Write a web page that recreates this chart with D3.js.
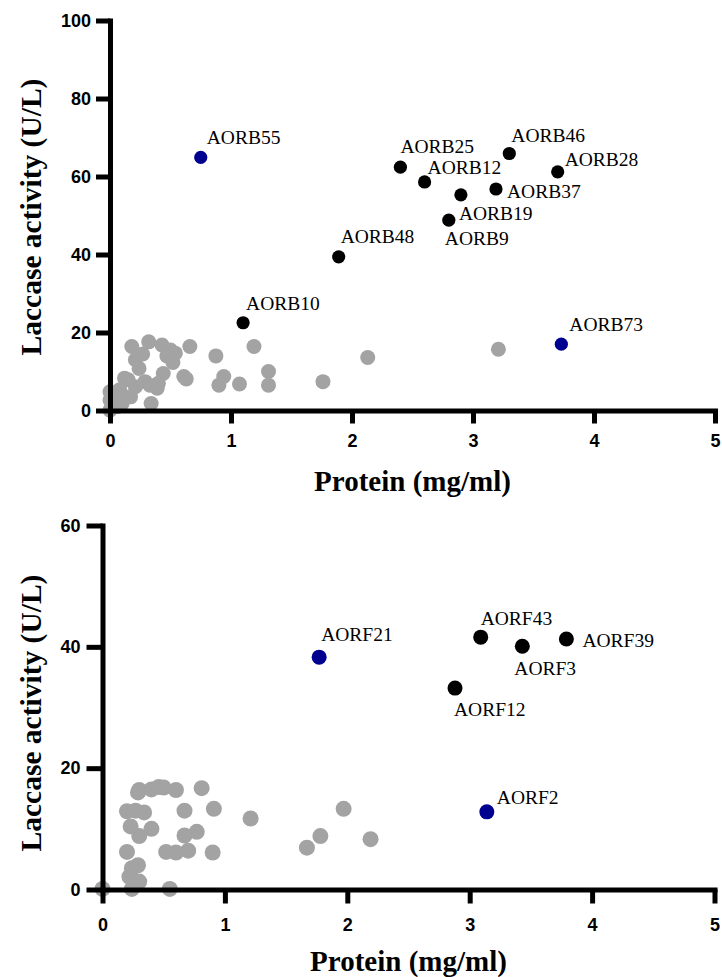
<!DOCTYPE html>
<html>
<head>
<meta charset="utf-8">
<script src="https://cdn.jsdelivr.net/npm/d3@7"></script>
<style>
  html, body { margin: 0; padding: 0; background: #fff; }
  svg { display: block; }
</style>
</head>
<body>
<svg id="chart" width="722" height="977"></svg>
<script>
// ---------- DATA ----------
const xTicks = [0, 1, 2, 3, 4, 5];
const topYTicks = [0, 20, 40, 60, 80, 100];
const bottomYTicks = [0, 20, 40, 60];

// Top panel: unlabeled isolates (grey)
const topGrayProtein  = [0.18,0.32,0.43,0.50,0.54,0.52,0.21,0.24,0.44,0.40,0.29,0.39,0.12,0.17,0.08,0.00,0.00,0.10,0.00,0.21,0.04,0.34,0.66,0.61,0.63,0.875,1.19,0.94,0.90,1.07,1.31,1.31,1.76,2.13,3.21,0.15,0.27,0.47,0.33,0.06];
const topGrayActivity = [16.4,17.6,16.8,15.5,14.7,12.3,13.0,10.8,9.5,7.0,7.4,5.7,8.3,3.5,5.3,4.8,2.7,1.8,0.1,6.1,3.5,1.8,16.4,8.7,8.1,14.0,16.4,8.7,6.5,6.8,10.0,6.5,7.4,13.6,15.7,7.9,14.5,14.0,6.5,1.0];

// Top panel: labeled isolates
const topNames    = ["AORB55","AORB25","AORB46","AORB12","AORB28","AORB37","AORB19","AORB9","AORB48","AORB10","AORB73"];
const topProtein  = [0.75, 2.40, 3.30, 2.60, 3.70, 3.19, 2.90, 2.80, 1.89, 1.10, 3.73];
const topActivity = [64.9, 62.4, 65.9, 58.6, 61.2, 56.8, 55.3, 48.8, 39.4, 22.5, 17.0];
const topGroup    = ["blue","black","black","black","black","black","black","black","black","black","blue"];

// Bottom panel: unlabeled isolates (grey)
const bottomGrayProtein  = [0.30,0.29,0.40,0.46,0.50,0.60,0.81,0.20,0.27,0.34,0.67,0.91,1.21,1.97,0.23,0.40,0.30,0.67,0.77,1.78,2.19,1.67,0.20,0.52,0.60,0.70,0.90,0.29,0.24,0.22,0.30,0.24,0.00,0.55];
const bottomGrayActivity = [16.4,16.0,16.5,16.9,16.8,16.4,16.7,12.9,13.0,12.7,13.0,13.3,11.7,13.3,10.4,10.0,8.8,8.9,9.5,8.8,8.3,6.9,6.2,6.2,6.1,6.4,6.1,4.0,3.5,2.1,1.3,0.1,0.1,0.1];

// Bottom panel: labeled isolates
const bottomNames    = ["AORF21","AORF43","AORF3","AORF39","AORF12","AORF2"];
const bottomProtein  = [1.77, 3.09, 3.43, 3.79, 2.88, 3.14];
const bottomActivity = [38.3, 41.6, 40.1, 41.3, 33.2, 12.8];
const bottomGroup    = ["blue","black","black","black","black","blue"];

// ---------- LAYOUT / STYLE ----------
const colors = { gray: "#a3a3a3", black: "#000000", blue: "#000090" };
const labelOffsets = {
  AORB55: [6, -13], AORB25: [0, -14], AORB46: [2, -11], AORB12: [3, -8],
  AORB28: [7, -6], AORB37: [11, 9], AORB19: [-2, 25], AORB9: [-4, 25],
  AORB48: [2, -14], AORB10: [3, -13], AORB73: [8, -13],
  AORF21: [2, -16], AORF43: [0, -12], AORF3: [-8, 29], AORF39: [16, 8],
  AORF12: [-1, 28], AORF2: [10, -8]
};

const panels = [
  {
    xRange: [110, 715], yRange: [410.5, 20.5], yDomain: [0, 100], yTicks: topYTicks,
    grayX: topGrayProtein, grayY: topGrayActivity, grayR: 7.5,
    names: topNames, px: topProtein, py: topActivity, group: topGroup, r: 6.6,
    xTickSize: 13, yTickSize: 14, xPad: 11, yPad: 5,
    xTitleY: 491, yTitleX: 41, yTitleCenter: 217
  },
  {
    xRange: [102.5, 714.5], yRange: [889.5, 525.5], yDomain: [0, 60], yTicks: bottomYTicks,
    grayX: bottomGrayProtein, grayY: bottomGrayActivity, grayR: 8,
    names: bottomNames, px: bottomProtein, py: bottomActivity, group: bottomGroup, r: 7.5,
    xTickSize: 14, yTickSize: 16, xPad: 15, yPad: 6,
    xTitleY: 971, yTitleX: 41, yTitleCenter: 713
  }
];

const svg = d3.select("#chart");

panels.forEach(p => {
  const x = d3.scaleLinear().domain([0, 5]).range(p.xRange);
  const y = d3.scaleLinear().domain(p.yDomain).range(p.yRange);
  const g = svg.append("g");

  // grey points
  const gray = d3.range(p.grayX.length).map(i => ({ x: p.grayX[i], y: p.grayY[i] }));
  g.append("g").selectAll("circle").data(gray).join("circle")
    .attr("cx", d => x(d.x)).attr("cy", d => y(d.y)).attr("r", p.grayR)
    .attr("fill", colors.gray);

  // axes
  const xAxis = d3.axisBottom(x).tickValues(xTicks).tickFormat(d3.format("d"))
    .tickSize(p.xTickSize).tickSizeOuter(0).tickPadding(p.xPad);
  const yAxis = d3.axisLeft(y).tickValues(p.yTicks).tickFormat(d3.format("d"))
    .tickSize(p.yTickSize).tickSizeOuter(0).tickPadding(p.yPad);

  const gx = g.append("g").attr("transform", `translate(0,${p.yRange[0]})`).call(xAxis);
  const gy = g.append("g").attr("transform", `translate(${p.xRange[0]},0)`).call(yAxis);
  [gx, gy].forEach(a => {
    a.select(".domain").attr("stroke", "#000").attr("stroke-width", 5).attr("stroke-linecap", "square");
    a.selectAll(".tick line").attr("stroke", "#000").attr("stroke-width", 5);
    a.selectAll(".tick text").attr("fill", "#000")
      .style("font-family", "'Liberation Sans', Arial, sans-serif")
      .style("font-weight", "bold").style("font-size", "18px");
  });

  // labeled points
  const lab = p.names.map((n, i) => ({ name: n, x: p.px[i], y: p.py[i], group: p.group[i] }));
  g.append("g").selectAll("circle").data(lab).join("circle")
    .attr("cx", d => x(d.x)).attr("cy", d => y(d.y)).attr("r", p.r)
    .attr("fill", d => colors[d.group]);
  g.append("g").selectAll("text").data(lab).join("text")
    .attr("x", d => x(d.x) + labelOffsets[d.name][0])
    .attr("y", d => y(d.y) + labelOffsets[d.name][1])
    .text(d => d.name)
    .style("font-family", "'Liberation Serif', 'Times New Roman', serif")
    .style("font-size", "19.5px").attr("fill", "#000");

  // axis titles
  g.append("text")
    .attr("x", (p.xRange[0] + p.xRange[1]) / 2).attr("y", p.xTitleY)
    .attr("text-anchor", "middle")
    .style("font-family", "'Liberation Serif', 'Times New Roman', serif")
    .style("font-weight", "bold").style("font-size", "29px")
    .text("Protein (mg/ml)");
  g.append("text")
    .attr("transform", `translate(${p.yTitleX},${p.yTitleCenter}) rotate(-90)`)
    .attr("text-anchor", "middle")
    .style("font-family", "'Liberation Serif', 'Times New Roman', serif")
    .style("font-weight", "bold").style("font-size", "29.5px")
    .text("Laccase activity (U/L)");
});
</script>
</body>
</html>
